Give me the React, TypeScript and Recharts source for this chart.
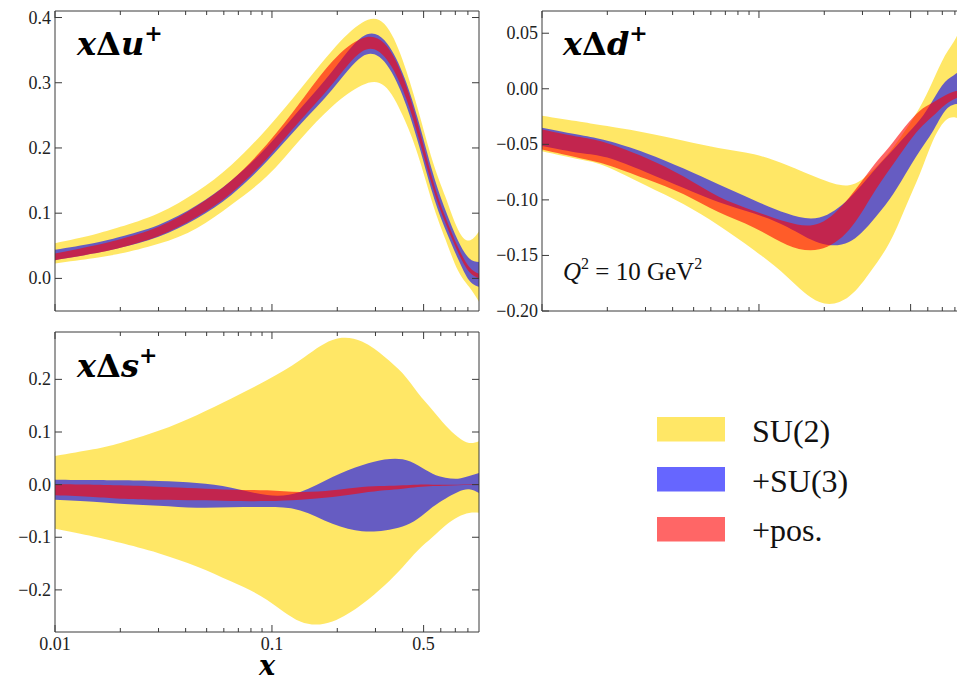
import { AreaChart, Area, XAxis, YAxis } from "recharts";

// x grid shared by all three distributions
const X_GRID = [0.01, 0.015, 0.02, 0.03, 0.045, 0.065, 0.095, 0.135, 0.19, 0.26, 0.33, 0.4, 0.47, 0.55, 0.63, 0.72, 0.81, 0.9];

// x Δu+  : [low, high] bands
const U_SU2 = [[0.023, 0.054], [0.031, 0.067], [0.038, 0.079], [0.053, 0.1], [0.077, 0.133], [0.113, 0.174], [0.157, 0.23], [0.213, 0.29], [0.264, 0.35], [0.296, 0.392], [0.295, 0.39], [0.25, 0.335], [0.19, 0.26], [0.115, 0.18], [0.06, 0.125], [0.012, 0.075], [-0.013, 0.058], [-0.036, 0.072]];
const U_SU3 = [[0.028, 0.044], [0.038, 0.054], [0.047, 0.064], [0.064, 0.082], [0.092, 0.112], [0.128, 0.15], [0.18, 0.202], [0.236, 0.26], [0.29, 0.318], [0.34, 0.37], [0.332, 0.365], [0.28, 0.315], [0.21, 0.245], [0.13, 0.163], [0.075, 0.105], [0.03, 0.058], [-0.003, 0.031], [-0.013, 0.025]];
const U_POS = [[0.028, 0.038], [0.038, 0.05], [0.047, 0.06], [0.065, 0.079], [0.094, 0.111], [0.131, 0.15], [0.184, 0.206], [0.242, 0.27], [0.298, 0.333], [0.348, 0.368], [0.34, 0.36], [0.29, 0.31], [0.22, 0.237], [0.14, 0.152], [0.085, 0.094], [0.04, 0.048], [0.01, 0.018], [0.0, 0.007]];

// x Δd+
const D_SU2 = [[-0.0562, -0.0243], [-0.0637, -0.0297], [-0.0703, -0.0336], [-0.0868, -0.0396], [-0.1039, -0.0468], [-0.1228, -0.0532], [-0.1453, -0.0589], [-0.1694, -0.0688], [-0.192, -0.0808], [-0.187, -0.0868], [-0.1634, -0.0745], [-0.1384, -0.057], [-0.1081, -0.038], [-0.0772, -0.017], [-0.048, 0.006], [-0.029, 0.03], [-0.026, 0.046], [-0.03, 0.068]];
const D_SU3 = [[-0.0514, -0.0351], [-0.0577, -0.0417], [-0.0619, -0.0468], [-0.0748, -0.0577], [-0.0892, -0.0718], [-0.1018, -0.0859], [-0.1123, -0.1003], [-0.1243, -0.1123], [-0.1387, -0.1159], [-0.1378, -0.0988], [-0.1198, -0.0763], [-0.0994, -0.0583], [-0.0778, -0.0432], [-0.0562, -0.0282], [-0.039, -0.011], [-0.02, 0.006], [-0.0138, 0.0138], [-0.012, 0.024]];
const D_POS = [[-0.0547, -0.0366], [-0.0625, -0.0435], [-0.0685, -0.049], [-0.081, -0.062], [-0.095, -0.079], [-0.111, -0.097], [-0.125, -0.11], [-0.1405, -0.12], [-0.1445, -0.121], [-0.127, -0.098], [-0.097, -0.0715], [-0.0725, -0.052], [-0.053, -0.0345], [-0.036, -0.02], [-0.025, -0.0126], [-0.0145, -0.006], [-0.0085, -0.002], [-0.004, 0.0]];

// x Δs+
const S_SU2 = [[-0.0839, 0.0545], [-0.0985, 0.0672], [-0.1105, 0.0793], [-0.1302, 0.1022], [-0.1556, 0.132], [-0.1842, 0.1637], [-0.2191, 0.1987], [-0.26, 0.2368], [-0.26, 0.275], [-0.2273, 0.272], [-0.1917, 0.2431], [-0.1568, 0.2114], [-0.125, 0.1745], [-0.0997, 0.1415], [-0.0775, 0.113], [-0.0616, 0.0907], [-0.054, 0.0793], [-0.0534, 0.0825]];
const S_SU3 = [[-0.0286, 0.0095], [-0.0324, 0.0088], [-0.0362, 0.0082], [-0.0401, 0.0069], [-0.0439, 0.0031], [-0.0432, -0.0058], [-0.0426, -0.0197], [-0.049, -0.014], [-0.0744, 0.0145], [-0.0884, 0.0368], [-0.087, 0.0476], [-0.0794, 0.0482], [-0.0648, 0.0368], [-0.0426, 0.0209], [-0.0267, 0.0133], [-0.014, 0.0114], [-0.0089, 0.0164], [-0.016, 0.0222]];
const S_POS = [[-0.0204, 0.0006], [-0.0236, 0.0], [-0.0267, -0.0013], [-0.0286, -0.0039], [-0.0299, -0.007], [-0.0312, -0.0096], [-0.0312, -0.0109], [-0.0286, -0.014], [-0.0236, -0.0109], [-0.016, -0.0045], [-0.0109, -0.0026], [-0.0077, -0.0013], [-0.0045, 0.0], [-0.0026, 0.0], [-0.002, 0.0], [-0.001, 0.0], [-0.0007, 0.0003], [-0.0005, 0.0005]];

const X_DOMAIN = [0.01, 0.9];
const X_TICKS = [0.01, 0.02, 0.03, 0.04, 0.05, 0.06, 0.07, 0.08, 0.09, 0.1, 0.2, 0.3, 0.4, 0.5, 0.6, 0.7, 0.8];
const X_MAJOR = [0.01, 0.1, 0.5];

const U_TICKS = [0, 0.1, 0.2, 0.3, 0.4];
const D_TICKS = [-0.2, -0.15, -0.1, -0.05, 0, 0.05];
const S_TICKS = [-0.2, -0.1, 0, 0.1, 0.2];

const LEGEND = [
  { name: "SU(2)", color: "#FFD700" },
  { name: "+SU(3)", color: "#0000FF" },
  { name: "+pos.", color: "#FF0000" },
];

const BAND_ALPHA = 0.6;
const FRAME = "#3a3a3a";
const TICK_TEXT = "#222";
const LABEL_FONT = '"Liberation Serif", "DejaVu Serif", serif';
const TITLE_FONT = '"DejaVu Serif", serif';

const PLOT_W = 424;
const PLOT_H = 300;
const LEFT_W = 50;
const TOP_PAD = 10;

function rows(su2: number[][], su3: number[][], pos: number[][]) {
  return X_GRID.map((x, i) => ({ x, su2: su2[i], su3: su3[i], pos: pos[i] }));
}

function isMajor(v: number) {
  return X_MAJOR.some((m) => Math.abs(m - v) < 1e-9);
}

function fmt(v: number, digits: number) {
  return v.toFixed(digits).replace("-", "\u2212");
}

function BottomTick(props: any) {
  const { x, y, payload, showLabel } = props;
  const major = isMajor(payload.value);
  return (
    <g>
      <line x1={x} x2={x} y1={y} y2={y - (major ? 7 : 4)} stroke={FRAME} />
      {showLabel && major ? (
        <text x={x} y={y + 18} textAnchor="middle" fontSize={18} fontFamily={LABEL_FONT} fill={TICK_TEXT}>
          {String(payload.value)}
        </text>
      ) : null}
    </g>
  );
}

function TopTick(props: any) {
  const { x, y, payload } = props;
  const major = isMajor(payload.value);
  return <line x1={x} x2={x} y1={y} y2={y + (major ? 7 : 4)} stroke={FRAME} />;
}

function LeftTick(props: any) {
  const { x, y, payload, digits } = props;
  return (
    <g>
      <line x1={x} x2={x + 7} y1={y} y2={y} stroke={FRAME} />
      <text x={x - 4} y={y + 6} textAnchor="end" fontSize={18} fontFamily={LABEL_FONT} fill={TICK_TEXT}>
        {fmt(payload.value, digits)}
      </text>
    </g>
  );
}

function RightTick(props: any) {
  const { x, y } = props;
  return <line x1={x} x2={x - 7} y1={y} y2={y} stroke={FRAME} />;
}

function Panel({
  left,
  top,
  data,
  yDomain,
  yTicks,
  digits,
  bottomH,
  showX,
}: {
  left: number;
  top: number;
  data: any[];
  yDomain: number[];
  yTicks: number[];
  digits: number;
  bottomH: number;
  showX: boolean;
}) {
  const common = {
    tickSize: 0,
    tickMargin: 0,
    tickLine: false,
    interval: 0 as const,
    allowDataOverflow: true,
    axisLine: { stroke: FRAME, strokeWidth: 1 },
  };
  return (
    <div style={{ position: "absolute", left, top: top - TOP_PAD }}>
      <AreaChart
        width={LEFT_W + PLOT_W + 1}
        height={TOP_PAD + 1 + PLOT_H + bottomH}
        data={data}
        margin={{ top: TOP_PAD, right: 0, bottom: 0, left: 0 }}
      >
        {LEGEND.map((l, i) => (
          <Area
            key={l.name}
            xAxisId="b"
            yAxisId="l"
            type="natural"
            dataKey={["su2", "su3", "pos"][i]}
            stroke="none"
            fill={l.color}
            fillOpacity={BAND_ALPHA}
            isAnimationActive={false}
            dot={false}
            activeDot={false}
          />
        ))}
        <XAxis
          {...common}
          xAxisId="b"
          dataKey="x"
          type="number"
          scale="log"
          domain={X_DOMAIN}
          ticks={X_TICKS}
          height={bottomH}
          tick={(p: any) => <BottomTick {...p} showLabel={showX} />}
        />
        <XAxis
          {...common}
          xAxisId="t"
          orientation="top"
          dataKey="x"
          type="number"
          scale="log"
          domain={X_DOMAIN}
          ticks={X_TICKS}
          height={1}
          tick={(p: any) => <TopTick {...p} />}
        />
        <YAxis
          {...common}
          yAxisId="l"
          type="number"
          domain={yDomain}
          ticks={yTicks}
          width={LEFT_W}
          tick={(p: any) => <LeftTick {...p} digits={digits} />}
        />
        <YAxis
          {...common}
          yAxisId="r"
          orientation="right"
          type="number"
          domain={yDomain}
          ticks={yTicks}
          width={1}
          tick={(p: any) => <RightTick {...p} />}
        />
      </AreaChart>
    </div>
  );
}

function Title({ x, y, q }: { x: number; y: number; q: string }) {
  return (
    <text x={x} y={y} fontFamily={TITLE_FONT} fontWeight="bold" fontSize={32} fill="#000">
      <tspan fontStyle="italic">x</tspan>
      <tspan>Δ</tspan>
      <tspan fontStyle="italic">{q}</tspan>
      <tspan fontSize={22} dy={-14}>+</tspan>
    </text>
  );
}

export default function App() {
  return (
    <div style={{ position: "relative", width: 957, height: 682, overflow: "hidden", background: "#fff" }}>
      <style>{"body{margin:0}"}</style>

      <Panel left={55 - LEFT_W} top={10} data={rows(U_SU2, U_SU3, U_POS)} yDomain={[-0.05, 0.41]} yTicks={U_TICKS} digits={1} bottomH={1} showX={false} />
      <Panel left={542 - LEFT_W} top={10} data={rows(D_SU2, D_SU3, D_POS)} yDomain={[-0.2, 0.07]} yTicks={D_TICKS} digits={2} bottomH={12} showX={false} />
      <Panel left={55 - LEFT_W} top={331} data={rows(S_SU2, S_SU3, S_POS)} yDomain={[-0.28, 0.29]} yTicks={S_TICKS} digits={1} bottomH={26} showX={true} />

      <svg width={957} height={682} style={{ position: "absolute", left: 0, top: 0, pointerEvents: "none" }}>
        <Title x={77} y={55} q="u" />
        <Title x={563} y={55} q="d" />
        <Title x={77} y={377} q="s" />

        <text x={563} y={280} fontFamily={LABEL_FONT} fontSize={25} fill="#111">
          <tspan fontStyle="italic">Q</tspan>
          <tspan fontSize={16} dy={-11}>2</tspan>
          <tspan dy={11}> = 10 GeV</tspan>
          <tspan fontSize={16} dy={-11}>2</tspan>
        </text>

        <text x={267} y={675} textAnchor="middle" fontFamily={TITLE_FONT} fontWeight="bold" fontStyle="italic" fontSize={27} fill="#000">
          x
        </text>

        {LEGEND.map((l, i) => (
          <g key={l.name}>
            <rect x={657} y={417 + i * 50} width={68} height={24.5} fill={l.color} fillOpacity={BAND_ALPHA} />
            <text x={752} y={442 + i * 49.5} fontFamily={LABEL_FONT} fontSize={32} fill="#111">
              {l.name}
            </text>
          </g>
        ))}
      </svg>
    </div>
  );
}
